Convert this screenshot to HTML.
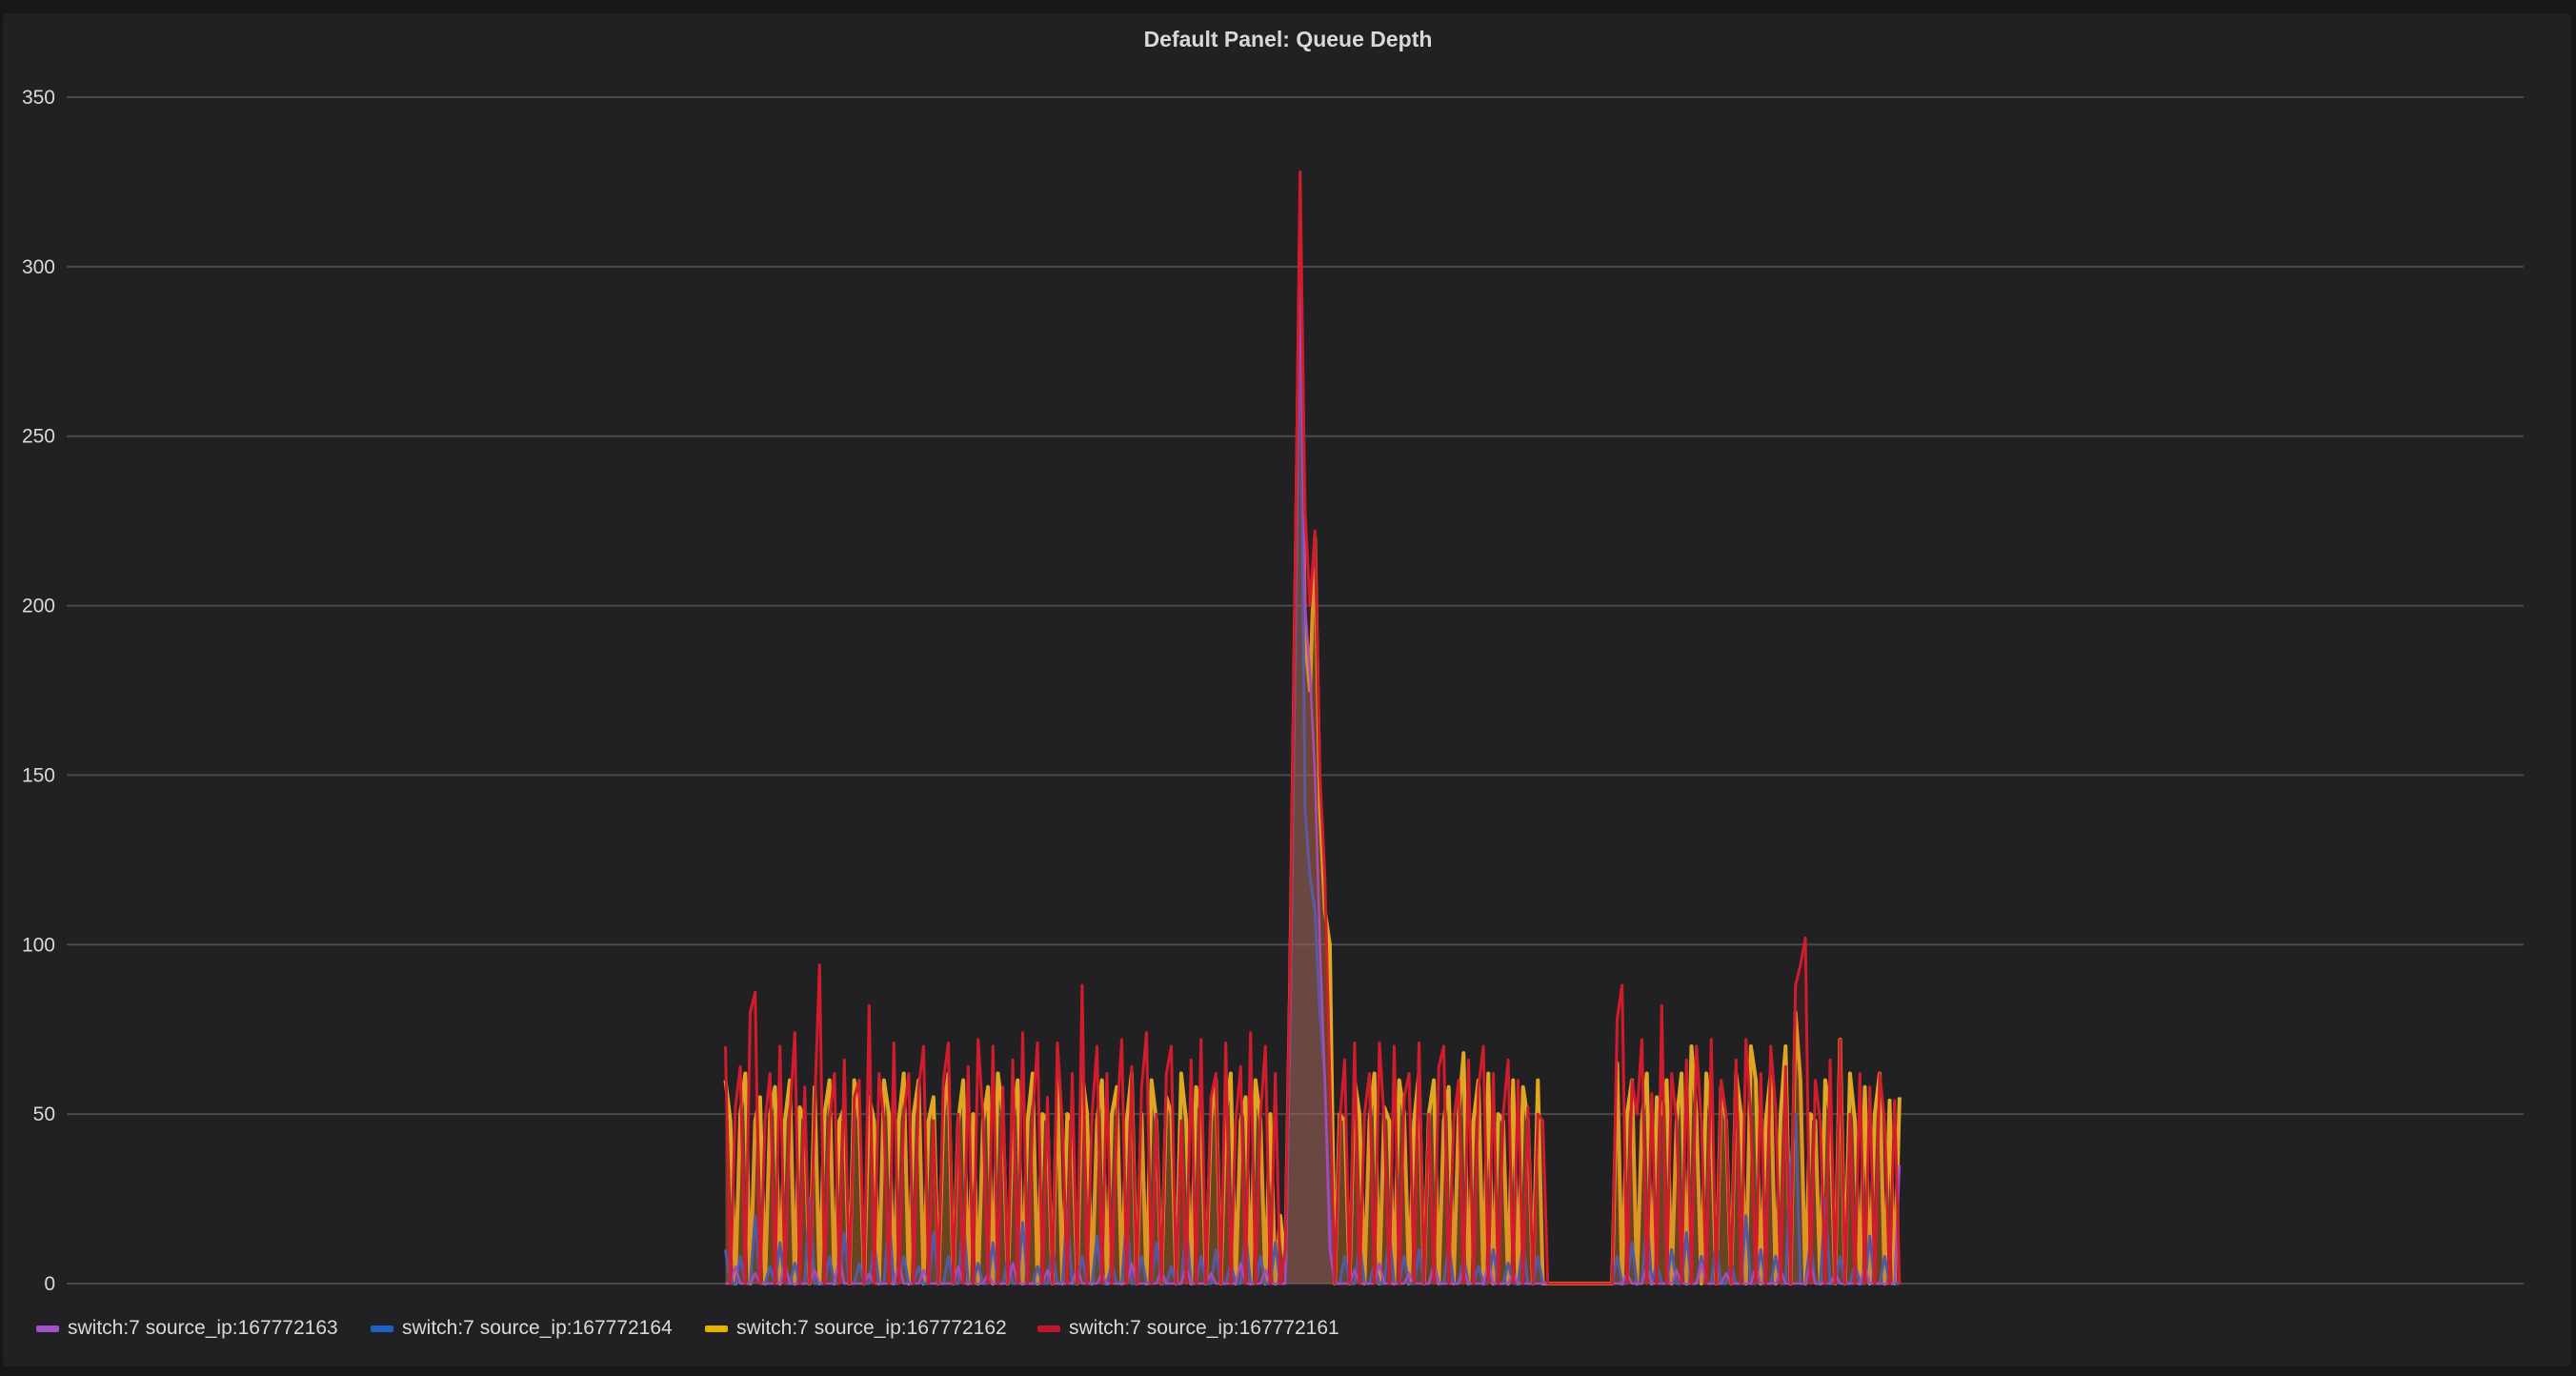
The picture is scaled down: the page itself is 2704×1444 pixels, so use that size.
<!DOCTYPE html>
<html><head><meta charset="utf-8"><style>
html,body{margin:0;padding:0;background:#161719;}
body{width:2704px;height:1444px;position:relative;overflow:hidden;font-family:"Liberation Sans",sans-serif;}
#panel{position:absolute;left:3px;top:14px;width:2696px;height:1420px;background:#212124;border-radius:4px;}
#title{position:absolute;left:0;top:28px;width:2704px;text-align:center;color:#d8d9da;font-size:23px;font-weight:bold;}
svg{position:absolute;left:0;top:0;}
.legend{position:absolute;top:1380px;height:28px;color:#d8d9da;font-size:21px;display:flex;align-items:center;}
.sw{display:inline-block;width:24px;height:7px;border-radius:2px;margin-right:9px;}
</style></head><body>
<div id="panel"></div>
<div id="title">Default Panel: Queue Depth</div>
<svg id="chart" width="2704" height="1444"></svg>
<div class="legend" style="left:38px"><span class="sw" style="background:#a352cc"></span>switch:7 source_ip:167772163</div>
<div class="legend" style="left:389px"><span class="sw" style="background:#1f60c4"></span>switch:7 source_ip:167772164</div>
<div class="legend" style="left:740px"><span class="sw" style="background:#e0b400"></span>switch:7 source_ip:167772162</div>
<div class="legend" style="left:1089px"><span class="sw" style="background:#c4162a"></span>switch:7 source_ip:167772161</div>
<script>
const yTicks=[0,50,100,150,200,250,300,350];
const startT=133;
const totalT=496;
const redVals=[70,0,52,64,0,80,86,0,48,62,0,70,0,50,74,0,58,0,52,94,0,48,62,0,66,0,55,60,0,82,0,62,48,0,71,0,50,62,0,58,70,0,48,0,60,71,0,50,0,64,0,72,49,0,70,0,58,0,66,0,74,0,50,71,0,55,0,71,48,0,62,0,88,0,50,70,0,62,0,48,72,0,64,0,58,74,0,50,0,62,70,0,48,0,66,0,72,0,55,62,0,71,0,48,64,0,74,0,50,70,0,62,0,10,
95,210,328,228,200,222,150,120,60,0,48,
66,0,71,0,50,62,0,71,48,0,70,0,55,62,0,71,0,50,0,64,70,0,48,60,0,66,0,58,70,0,62,0,50,66,0,60,0,52,0,50,48,0,
0,0,0,0,0,0,0,0,0,0,0,0,0,
78,88,0,60,50,72,0,56,0,82,0,62,48,0,66,0,70,48,0,72,0,60,50,0,66,0,72,48,0,62,0,70,52,0,64,0,88,94,102,0,60,48,0,66,0,72,0,50,0,62,0,58,0,62,48,0,54,0];
const yellowVals=[60,48,0,50,62,0,48,55,0,50,58,0,48,60,0,52,48,0,58,0,50,60,0,48,52,0,60,48,0,55,48,0,60,50,0,48,62,0,50,60,0,48,55,0,50,62,0,48,60,0,50,0,48,58,0,62,50,0,48,60,0,48,62,0,50,48,0,60,0,50,48,0,62,50,0,48,60,0,50,58,0,48,62,0,50,0,60,48,0,55,50,0,62,48,0,58,50,0,48,60,0,50,62,0,48,55,0,60,48,0,50,0,20,5,
90,200,310,190,175,220,140,110,100,0,50,
48,0,60,50,0,48,62,0,52,48,0,60,50,0,48,62,0,50,60,0,48,58,0,50,68,0,48,60,0,62,0,50,48,0,60,0,58,48,0,60,0,0,
0,0,0,0,0,0,0,0,0,0,0,0,0,
65,0,50,60,0,48,62,0,55,50,60,0,48,62,0,70,50,0,62,48,0,58,48,0,62,50,0,70,60,0,48,62,0,50,70,0,80,60,0,50,48,0,60,50,0,72,0,62,48,0,58,0,50,62,0,54,0,55];
const blueVals=[10,0,0,8,0,0,20,0,0,5,0,12,0,0,6,0,0,25,0,0,0,8,0,0,15,0,0,6,0,0,12,0,0,20,0,0,8,0,0,5,0,0,15,0,0,8,0,0,20,0,0,6,0,0,12,0,0,8,0,0,18,0,0,5,0,0,10,0,0,22,0,0,8,0,0,14,0,0,6,0,0,20,0,0,8,0,0,12,0,0,5,0,0,18,0,0,8,0,0,10,0,0,6,0,0,15,0,0,8,0,0,12,0,0,
80,190,300,140,120,110,80,60,20,0,0,
8,0,0,12,0,0,6,0,0,15,0,0,8,0,0,10,0,0,6,0,0,12,0,0,8,0,0,5,0,0,10,0,0,6,0,0,12,0,0,8,0,0,
0,0,0,0,0,0,0,0,0,0,0,0,0,
8,0,0,12,0,0,20,0,6,0,0,10,0,0,15,0,0,8,0,0,12,0,0,6,0,0,20,0,0,10,0,0,8,0,0,35,50,0,0,12,0,0,25,0,0,8,0,0,6,0,0,14,0,0,8,0,0,0];
const purpleVals=[0,0,5,0,0,0,3,0,0,0,0,0,6,0,0,0,0,0,4,0,0,0,0,8,0,0,0,0,0,3,0,0,0,0,0,6,0,0,0,0,4,0,0,0,0,0,0,5,0,0,0,0,0,3,0,0,0,0,6,0,0,0,0,0,0,4,0,0,0,0,0,5,0,0,0,0,3,0,0,0,0,0,6,0,0,0,0,0,4,0,0,0,0,5,0,0,0,0,3,0,0,0,0,0,6,0,0,0,0,4,0,0,0,0,
85,200,300,200,180,150,100,60,10,0,0,
0,0,4,0,0,0,0,6,0,0,0,0,0,3,0,0,0,0,5,0,0,0,0,0,4,0,0,0,0,6,0,0,0,0,3,0,0,0,0,0,0,0,
0,0,0,0,0,0,0,0,0,0,0,0,0,
0,0,3,0,0,0,5,0,0,0,0,0,4,0,0,0,0,6,0,0,0,0,3,0,0,0,0,0,5,0,0,0,0,4,0,0,0,0,0,6,0,0,0,0,3,0,0,0,0,0,5,0,0,0,0,0,0,35];
const L=70,R=2649,T=102,B=1347;
const NS='http://www.w3.org/2000/svg';
const svg=document.getElementById('chart');
function xS(t){return L+(t/totalT)*(R-L);}
function yS(v){return B-(v/350)*(B-T);}
yTicks.forEach(v=>{
  const ln=document.createElementNS(NS,'line');
  
  
  ln.setAttribute('x1',L);ln.setAttribute('x2',R);ln.setAttribute('y1',yS(v));ln.setAttribute('y2',yS(v));
  ln.setAttribute('stroke','#4a4a4d');ln.setAttribute('stroke-width','2');
  svg.appendChild(ln);
  const tx=document.createElementNS(NS,'text');
  
  
  tx.setAttribute('x',L-12);tx.setAttribute('y',yS(v)+7);tx.setAttribute('text-anchor','end');
  tx.setAttribute('fill','#d8d9da');tx.setAttribute('font-size','21');tx.setAttribute('font-family','Liberation Sans, sans-serif');
  tx.textContent=v;svg.appendChild(tx);
});
function drawSeries(vals,color,fillOp,sw,name){
  let pts=vals.map((v,i)=>xS(startT+i).toFixed(1)+','+yS(v).toFixed(1));
  const area=document.createElementNS(NS,'polygon');
  
  
  area.setAttribute('points',xS(startT).toFixed(1)+','+B+' '+pts.join(' ')+' '+xS(startT+vals.length-1).toFixed(1)+','+B);
  area.setAttribute('fill',color);area.setAttribute('fill-opacity',fillOp);
  svg.appendChild(area);
  const pl=document.createElementNS(NS,'polyline');
  
  
  pl.setAttribute('points',pts.join(' '));
  pl.setAttribute('fill','none');pl.setAttribute('stroke',color);pl.setAttribute('stroke-width',sw);pl.setAttribute('stroke-linejoin','round');
  svg.appendChild(pl);
}
drawSeries(yellowVals,'#e0a820',0.3,4,'series-167772162');
drawSeries(blueVals,'#3f66b0',0.15,3,'series-167772164');
drawSeries(purpleVals,'#a352cc',0.1,2.5,'series-167772163');
drawSeries(redVals,'#d01c2c',0.12,3,'series-167772161');
</script>
</body></html>
